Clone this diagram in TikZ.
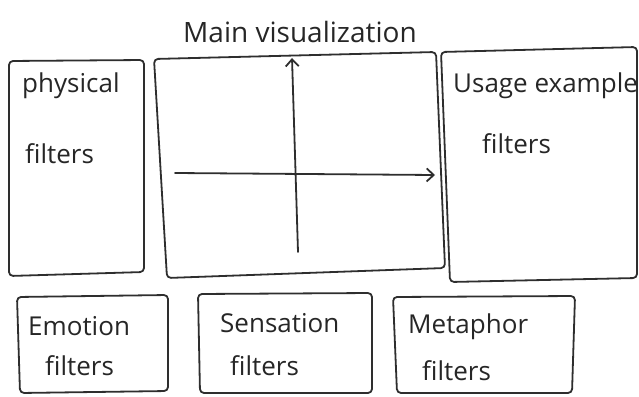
\documentclass[tikz,border=0pt]{standalone}
\usepackage{fontspec}
\setmainfont{Open Sans}
\usetikzlibrary{arrows.meta}
\begin{document}
\begin{tikzpicture}[x=1pt,y=-1pt,
  pen/.style={draw=black!82, line width=1.8pt, line join=round, line cap=round},
  panel/.style={pen, rounded corners=4pt},
  axis/.style={pen, -{Straight Barb[length=7pt,width=13pt]}},
  hand/.style={anchor=base west, inner sep=0pt, text=black!85, font=\fontsize{26}{28}\selectfont},
  title/.style={hand, font=\fontsize{28}{30}\selectfont}]
\useasboundingbox (0,0) rectangle (639,396);

% panel corners: top-left, top-right, bottom-right, bottom-left
\coordinate (phys-tl) at (9,61);   \coordinate (phys-tr) at (144,60);
\coordinate (phys-br) at (144,272);\coordinate (phys-bl) at (9,276);
\coordinate (main-tl) at (154,59); \coordinate (main-tr) at (436,52);
\coordinate (main-br) at (445,268);\coordinate (main-bl) at (167,278);
\coordinate (use-tl) at (441,52);  \coordinate (use-tr) at (637,47);
\coordinate (use-br) at (637,278); \coordinate (use-bl) at (450,282);
\coordinate (emo-tl) at (17,297);  \coordinate (emo-tr) at (168,295);
\coordinate (emo-br) at (168,391); \coordinate (emo-bl) at (20,393);
\coordinate (sen-tl) at (198,294); \coordinate (sen-tr) at (372,293);
\coordinate (sen-br) at (372,393); \coordinate (sen-bl) at (200,393);
\coordinate (met-tl) at (393,297); \coordinate (met-tr) at (575,296);
\coordinate (met-br) at (572,393); \coordinate (met-bl) at (397,393);

\foreach \p in {phys,main,use,emo,sen,met}
  \draw[panel] (\p-tl) -- (\p-tr) -- (\p-br) -- (\p-bl) -- cycle;

% axes of the main view
\coordinate (ax-y0) at (298,252); \coordinate (ax-y1) at (292,58);
\coordinate (ax-x0) at (175,173); \coordinate (ax-x1) at (435,175);
\draw[axis] (ax-y0) -- (ax-y1);
\draw[axis] (ax-x0) -- (ax-x1);

% labels
\node[title] (t-main) at (183,43) {Main visualization};
\node[hand] (t-phys1) at (22,92) {physical};
\node[hand] (t-phys2) at (25,163) {filters};
\node[hand] (t-use1) at (453,92) {Usage example};
\node[hand] (t-use2) at (482,153) {filters};
\node[hand] (t-emo1) at (28,335) {Emotion};
\node[hand] (t-emo2) at (45,375) {filters};
\node[hand] (t-sen1) at (220,332) {Sensation};
\node[hand] (t-sen2) at (230,375) {filters};
\node[hand] (t-met1) at (408,333) {Metaphor};
\node[hand] (t-met2) at (422,380) {filters};
\end{tikzpicture}
\end{document}
